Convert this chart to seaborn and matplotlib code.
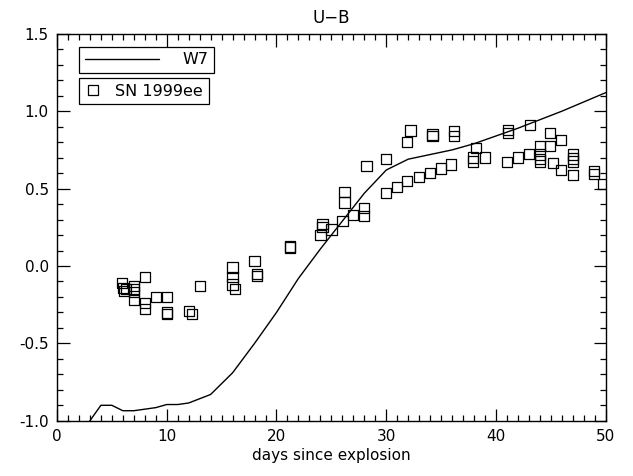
import matplotlib
matplotlib.use('Agg')
import matplotlib.pyplot as plt
from matplotlib.lines import Line2D
from matplotlib.ticker import MultipleLocator
import seaborn as sns

# W7 model curve (U-B vs days since explosion)
w7_days = [3, 4, 5, 6, 7, 8, 9, 10, 11, 12, 14, 16, 18, 20, 22, 24, 26,
           28, 30, 32, 34, 36, 38, 40, 42, 44, 46, 48, 50]
w7_ub = [-1.0, -0.90, -0.90, -0.935, -0.935, -0.925, -0.915, -0.895, -0.895,
         -0.885, -0.83, -0.69, -0.50, -0.30, -0.08, 0.11, 0.29, 0.47, 0.62,
         0.69, 0.72, 0.75, 0.79, 0.84, 0.89, 0.945, 1.00, 1.06, 1.12]

# SN 1999ee observations
sn_days = [5.9, 6.0, 6.1, 6.3, 7.0, 7.0, 7.0, 7.0, 8.0, 8.0, 8.0, 9.0,
           10.0, 10.0, 10.0, 12.0, 12.3, 13.0, 16.0, 16.0, 16.0, 16.2,
           18.0, 18.2, 18.2, 21.2, 21.2, 24.0, 24.2, 24.2, 25.0, 26.0,
           26.2, 26.2, 27.0, 28.0, 28.0, 28.2, 30.0, 30.0, 31.0, 31.9,
           31.9, 32.2, 33.0, 34.0, 34.2, 34.2, 35.0, 35.9, 36.2, 36.2,
           37.9, 37.9, 38.2, 39.0, 41.0, 41.1, 41.1, 42.0, 43.0, 43.1,
           44.0, 44.0, 44.0, 44.0, 44.9, 44.9, 45.2, 45.9, 45.9, 47.0,
           47.0, 47.0, 47.0, 48.9, 48.9, 49.8]
sn_ub = [-0.11, -0.14, -0.16, -0.15, -0.13, -0.15, -0.17, -0.22, -0.07, -0.24,
         -0.28, -0.20, -0.20, -0.31, -0.30, -0.29, -0.31, -0.13, -0.01, -0.07,
         -0.12, -0.15, 0.03, -0.05, -0.065, 0.12, 0.125, 0.20, 0.27, 0.25,
         0.235, 0.29, 0.48, 0.41, 0.33, 0.375, 0.325, 0.645, 0.69, 0.47,
         0.51, 0.55, 0.80, 0.875, 0.575, 0.60, 0.84, 0.85, 0.63, 0.655,
         0.87, 0.84, 0.70, 0.675, 0.76, 0.70, 0.67, 0.88, 0.86, 0.70,
         0.725, 0.91, 0.775, 0.72, 0.69, 0.675, 0.775, 0.86, 0.665, 0.62,
         0.815, 0.72, 0.695, 0.675, 0.59, 0.615, 0.595, 0.53]

sns.set_style('ticks')
plt.rcParams['font.family'] = ['DejaVu Sans']
plt.rcParams['font.size'] = 11
plt.rcParams['text.color'] = 'black'
plt.rcParams['axes.labelcolor'] = 'black'

fig = plt.figure(figsize=(6.33, 4.76), dpi=100)
ax = fig.add_axes([0.090, 0.116, 0.867, 0.813])

sns.lineplot(x=w7_days, y=w7_ub, color='black', linewidth=1.0, ax=ax)
sns.scatterplot(x=sn_days, y=sn_ub, marker='s', s=55, color='black',
                facecolor='none', edgecolor='black', linewidth=0.9, ax=ax)

ax.set_xlim(0, 50)
ax.set_ylim(-1.0, 1.5)
ax.xaxis.set_major_locator(MultipleLocator(10))
ax.xaxis.set_minor_locator(MultipleLocator(1))
ax.yaxis.set_major_locator(MultipleLocator(0.5))
ax.yaxis.set_minor_locator(MultipleLocator(0.1))
ax.yaxis.set_major_formatter(matplotlib.ticker.FormatStrFormatter('%.1f'))
ax.tick_params(which='both', direction='in', top=True, right=True,
               color='black', labelsize=11, labelcolor='black')
ax.tick_params(which='major', length=9, width=0.9, pad=6)
ax.tick_params(which='minor', length=4.5, width=0.9)
for sp in ax.spines.values():
    sp.set_color('black')
    sp.set_linewidth(1.0)

ax.set_title('U\u2212B', fontsize=12, pad=8, color='black')
ax.set_xlabel('days since explosion', fontsize=11, labelpad=3)
ax.set_ylabel('')

# two separate legend boxes, IDL style
h1 = [Line2D([], [], color='black', linewidth=1.0)]
leg1 = ax.legend(h1, ['W7'], loc='upper left', bbox_to_anchor=(0.041, 0.967),
                 borderaxespad=0, fancybox=False, edgecolor='black',
                 framealpha=1, handlelength=4.6, handletextpad=1.5,
                 borderpad=0.35, fontsize=11.5, labelcolor='black')
leg1.get_frame().set_linewidth(0.9)
ax.add_artist(leg1)

h2 = [Line2D([], [], marker='s', linestyle='', markerfacecolor='none',
             markeredgecolor='black', markersize=7.5, markeredgewidth=0.9)]
leg2 = ax.legend(h2, ['SN 1999ee'], loc='upper left',
                 bbox_to_anchor=(0.041, 0.885), borderaxespad=0,
                 fancybox=False, edgecolor='black', framealpha=1,
                 handlelength=1.0, handletextpad=0.9, borderpad=0.35,
                 fontsize=11.5, labelcolor='black')
leg2.get_frame().set_linewidth(0.9)

fig.savefig('out.png', dpi=100)
